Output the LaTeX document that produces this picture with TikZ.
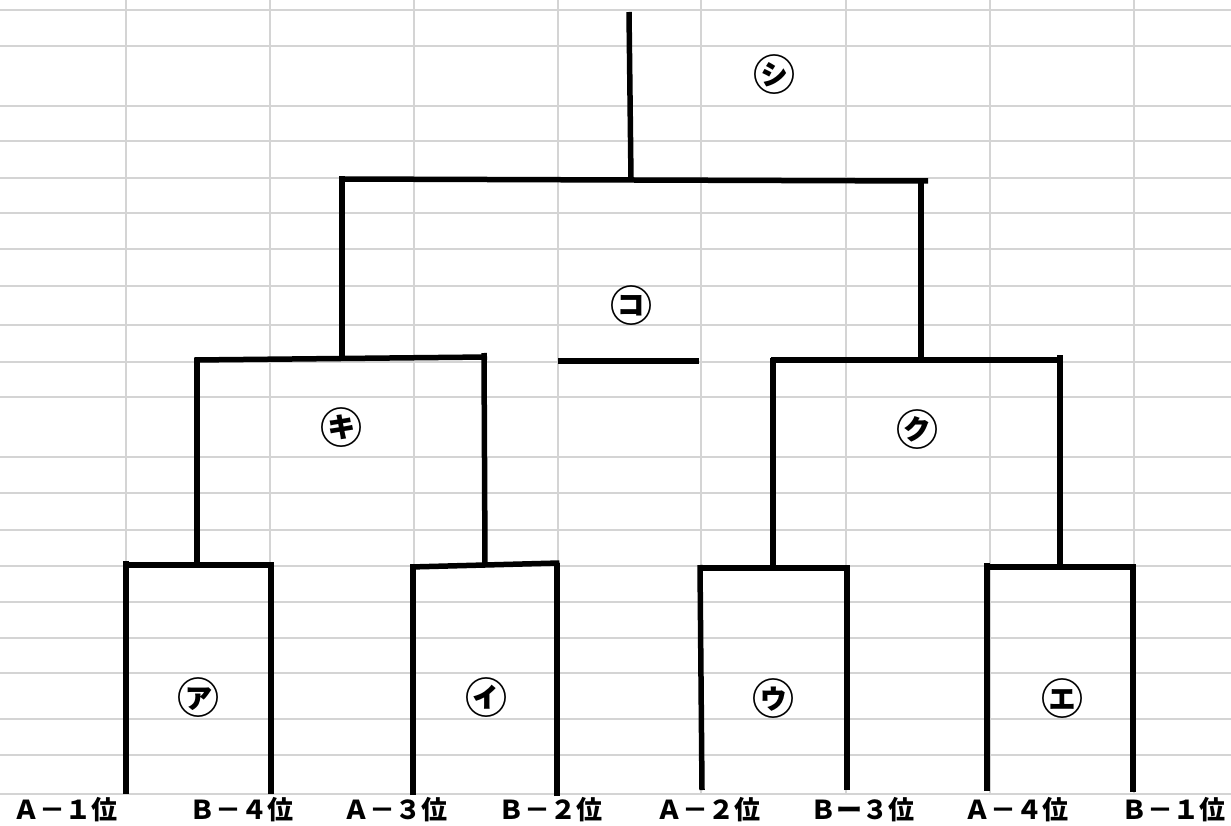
\documentclass[tikz,border=0pt]{standalone}
\usepackage{fontspec}
\newfontfamily\jp{Noto Sans CJK JP}
\definecolor{gridgray}{RGB}{212,212,212}
\begin{document}
\begin{tikzpicture}[x=1pt,y=-1pt,
  gridline/.style={draw=gridgray,line width=2pt},
  br/.style={draw=black,line width=5.5pt},
  seed/.style={font=\jp\bfseries\fontsize{26}{26}\selectfont,inner sep=0pt,anchor=center},
  match/.style={font=\jp\bfseries\fontsize{42}{42}\selectfont,inner sep=0pt,anchor=center}]
\useasboundingbox[fill=white] (0,0) rectangle (1231,826);
% grid
\foreach \yy in {10,46,106,141,178,213,249,286,325,362,397,457,493,530,566,602,638,673,719,755,794}
  \draw[gridline] (0,\yy) -- (1231,\yy);
\foreach \xx in {126,270,414,558,701,846,990,1134}
  \draw[gridline] (\xx,0) -- (\xx,794);
% key coordinates
\coordinate (a1) at (126,794); \coordinate (b4) at (271,794);
\coordinate (a3) at (413,795); \coordinate (b2) at (557,796);
\coordinate (a2) at (702,790); \coordinate (b3) at (847,790);
\coordinate (a4) at (987,791); \coordinate (b1) at (1133,792);
% round 1
\draw[br] (a1) -- (126,561);
\draw[br] (123.5,565) -- (273.5,565);
\draw[br] (b4) -- (271,563);
\draw[br] (197,565) -- (197,357.5);
\draw[br] (a3) -- (413,564);
\draw[br] (410.5,567) -- (559.5,563);
\draw[br] (b2) -- (557,563);
\draw[br] (485,565) -- (484,353);
\draw[br] (a2) -- (700,565);
\draw[br] (698,568) -- (849.5,568);
\draw[br] (b3) -- (847,565);
\draw[br] (773,568) -- (773,357.5);
\draw[br] (a4) -- (987,563);
\draw[br] (984.5,567) -- (1135.5,567);
\draw[br] (b1) -- (1133,566);
\draw[br] (1060,567) -- (1060,355);
% round 2
\draw[br] (194.5,360) -- (487,357);
\draw[br] (342,359) -- (342,176.5);
\draw[br] (770.5,360) -- (1062.5,360);
\draw[br] (921,360) -- (921,181);
% final
\draw[br] (339.5,179) -- (928,181);
\draw[br] (631,180) -- (629,12);
\draw[br] (558,361) -- (699,361);
% labels
\node[match] (shi) at (774,75) {㋛};
\node[match] (ko) at (631,306) {㋙};
\node[match] (ki) at (341,428) {㋖};
\node[match] (ku) at (917,430) {㋗};
\node[match] (a) at (198,698) {㋐};
\node[match] (i) at (486,698) {㋑};
\node[match] (u) at (773,699) {㋒};
\node[match] (e) at (1062,699) {㋓};
\node[seed] (sa1) at (65,810) {Ａ－１位};
\node[seed] (sb4) at (241,810) {Ｂ－４位};
\node[seed] (sa3) at (395,810) {Ａ－３位};
\node[seed] (sb2) at (550,810) {Ｂ－２位};
\node[seed] (sa2) at (708,810) {Ａ－２位};
\node[seed] (sb3) at (862,810) {Ｂー３位};
\node[seed] (sa4) at (1016,810) {Ａ－４位};
\node[seed] (sb1) at (1173,810) {Ｂ－１位};
\end{tikzpicture}
\end{document}
